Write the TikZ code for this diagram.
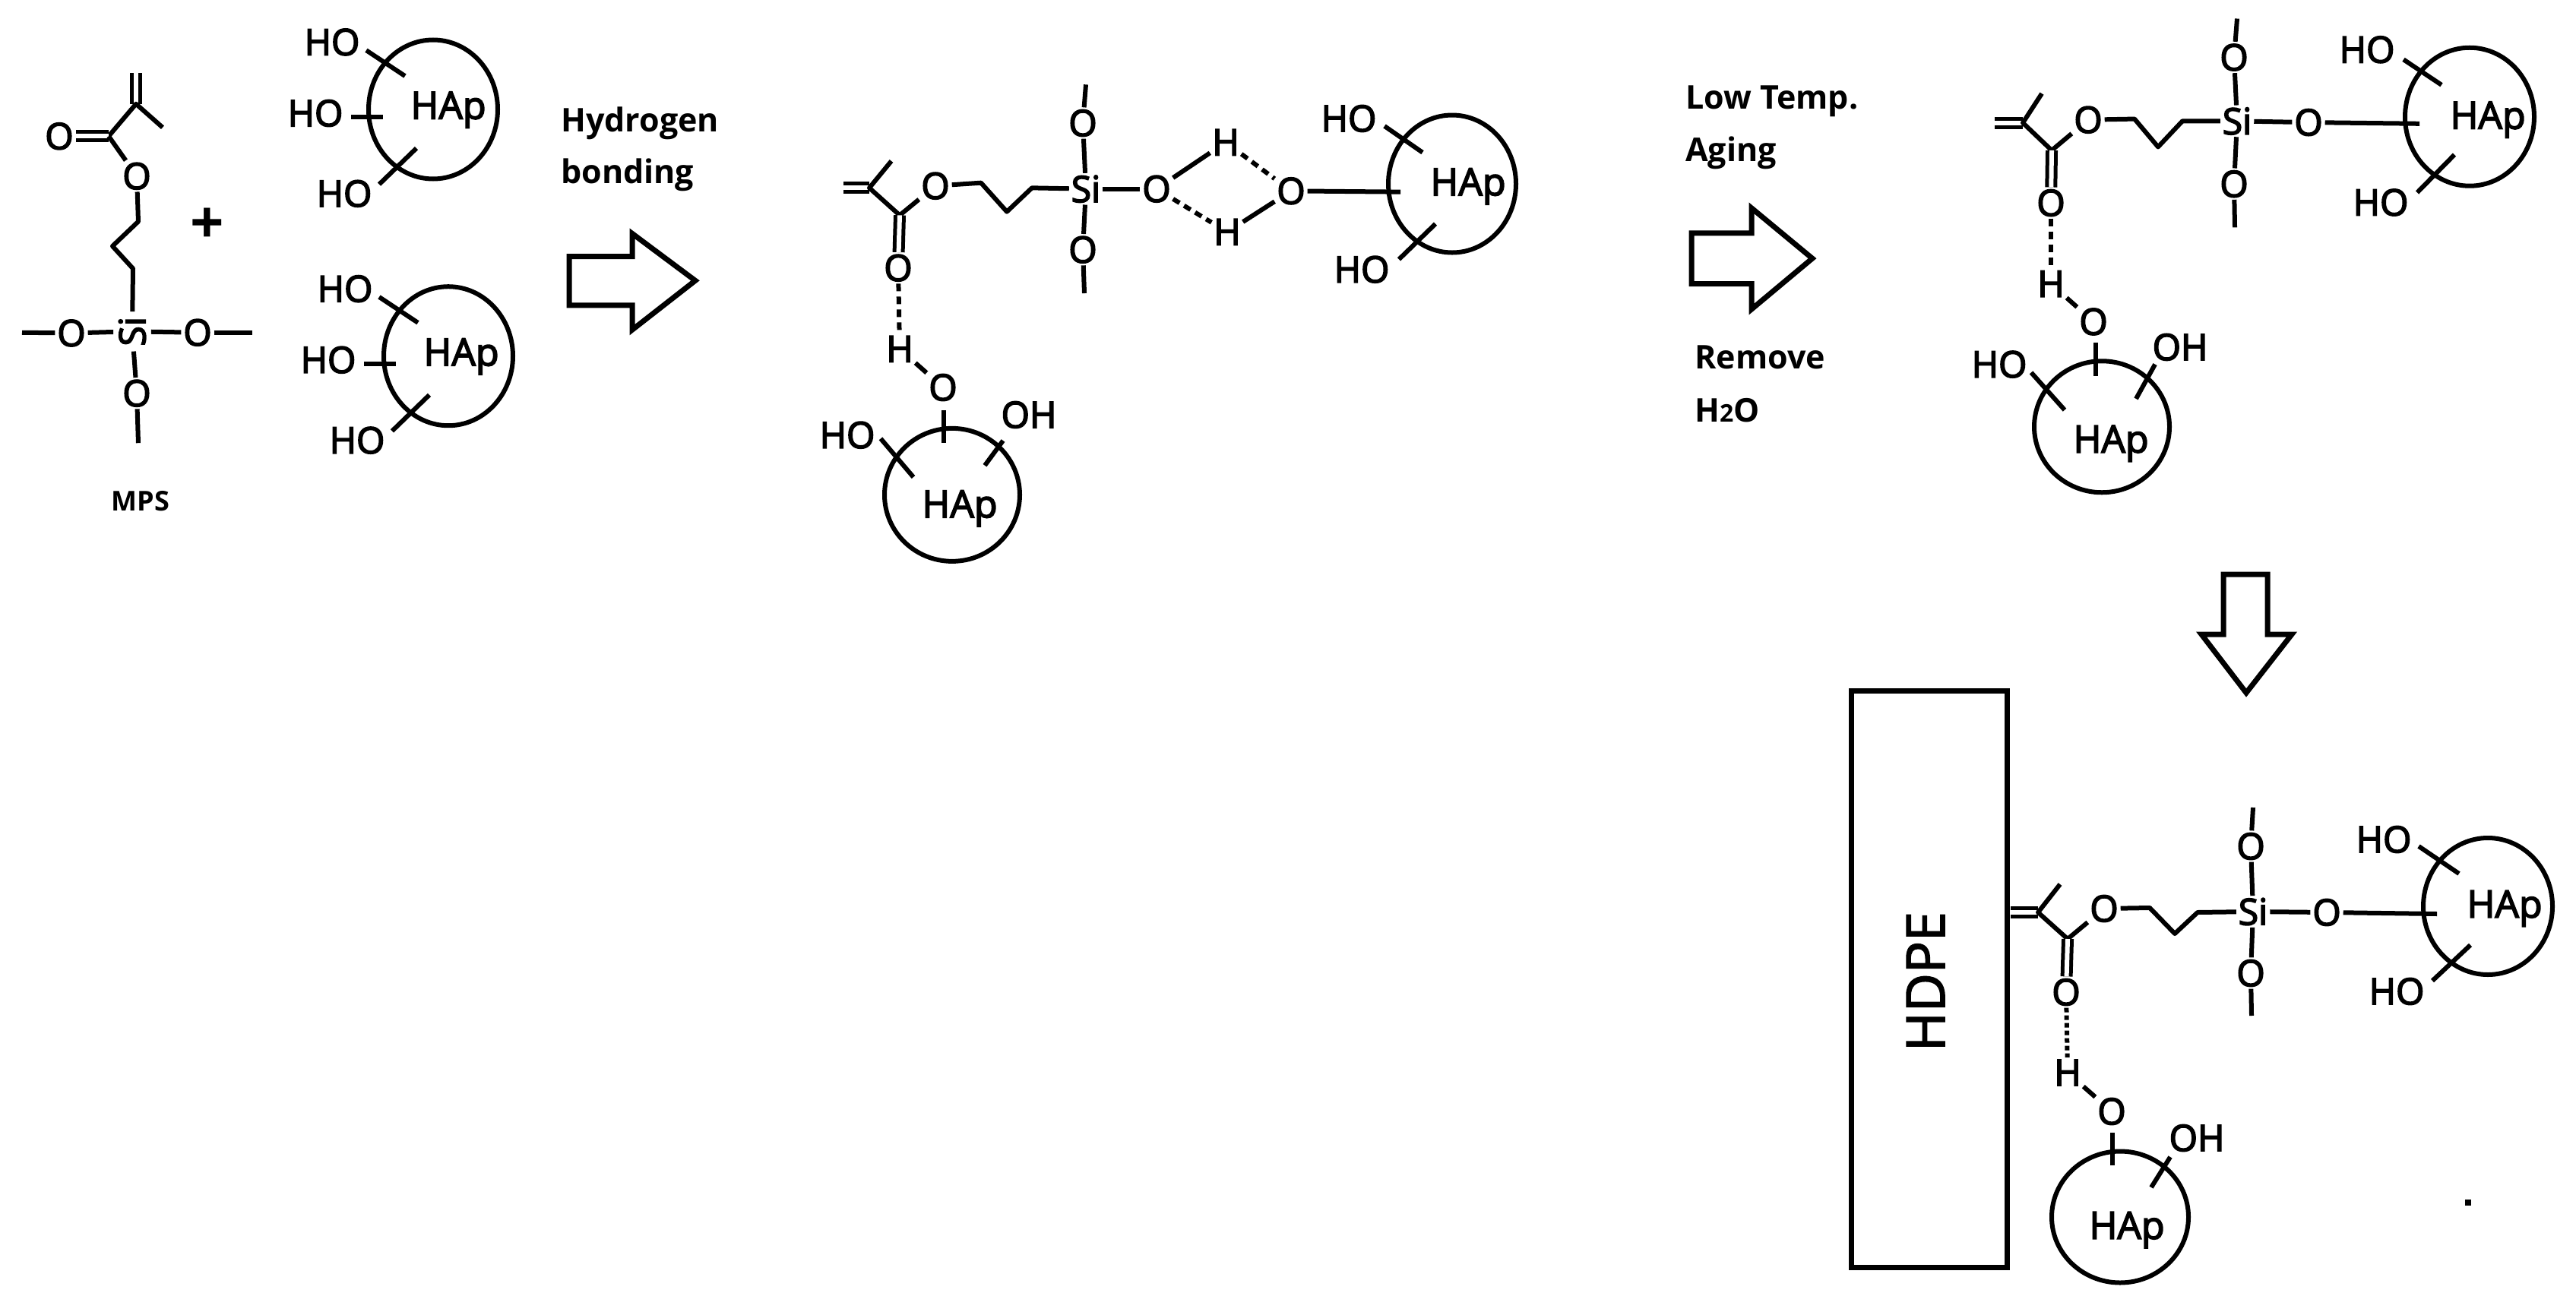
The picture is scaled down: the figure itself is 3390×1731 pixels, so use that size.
\documentclass[tikz,border=0pt]{standalone}
\usepackage{fontspec}
\usetikzlibrary{shapes.geometric}
\setmainfont{Open Sans}
\newfontfamily\fontA{Open Sans}
\newfontfamily\fontL{Open Sans}
\newcommand\chemtick[3]{\coordinate (#1a) at (#2); \coordinate (#1b) at (#3); \draw[bond] (#1a) -- (#1b);}
\tikzset{
  x=1pt,y=-1pt,
  bond/.style={line width=6pt,line cap=butt,line join=round},
  dbl/.style={bond,line width=5pt,double,double distance=6pt},
  hbond/.style={bond,dash pattern=on 10pt off 7pt},
  ring/.style={draw,ellipse,line width=6pt,inner sep=0pt,outer sep=0pt},
  blockarrow/.style={line width=7pt,line join=miter},
  heavy/.style={execute at begin node={\special{pdf:code 2 Tr 1.6 w}},execute at end node={\special{pdf:code 0 Tr}}},
  atom/.style={heavy,inner sep=0pt,outer sep=3pt,font=\fontA\fontsize{48}{48}\selectfont},
  hap/.style={heavy,inner sep=0pt,font=\fontA\fontsize{50}{50}\selectfont},
  lbl/.style={inner sep=0pt,anchor=base west,font=\fontL\bfseries\fontsize{43}{43}\selectfont},
}
\begin{document}
\begin{tikzpicture}
\useasboundingbox[fill=white] (0,0) rectangle (3390,1731);

\begin{scope}[y=-0.72pt]
% ---------- MPS ----------
\node[atom] (aO1) at (78,249) {O};
\node[atom] (aO2) at (180,322) {O};
\node[atom,rotate=90,outer sep=7pt] (aSi) at (174,606) {Si};
\node[atom] (aOl) at (94,609) {O};
\node[atom] (aOr) at (260,608) {O};
\node[atom] (aOb) at (180,719) {O};
\node[lbl,anchor=center,font=\fontL\bfseries\fontsize{36}{36}\selectfont] (mps) at (185,916) {MPS};
\node[inner sep=0pt,font=\fontL\bfseries\fontsize{78}{78}\selectfont] (plus) at (273,413) {+};
\coordinate (aV) at (179,190);
\coordinate (aT) at (179,134);
\coordinate (aM) at (214,233);
\coordinate (aC) at (143,249);
\coordinate (aV1) at (182,405);
\coordinate (aV2) at (148,450);
\coordinate (aV3) at (175,491);
\coordinate (aL) at (29,608);
\coordinate (aR) at (332,608);
\coordinate (aB) at (182,810);
\draw[dbl] (aV) -- (aT);
\draw[bond] (aM) -- (aV) -- (aC);
\draw[dbl] (aC) -- (aO1);
\draw[bond] (aC) -- (aO2);
\draw[bond] (aO2) -- (aV1) -- (aV2) -- (aV3) -- (aSi);
\draw[bond] (aL) -- (aOl);
\draw[bond] (aOl) -- (aSi);
\draw[bond] (aSi) -- (aOr);
\draw[bond] (aOr) -- (aR);
\draw[bond] (aSi) -- (aOb);
\draw[bond] (aOb) -- (aB);

% ---------- HAp 1 and 2 ----------
\node[ring,minimum width=170pt,minimum height=183pt] (r1) at (570,200) {};
\node[hap] (r1t) at (590,201) {HAp};
\node[atom] (r1a) at (437,77) {HO};
\node[atom] (r1b) at (415,207) {HO};
\node[atom] (r1c) at (453,354) {HO};
\chemtick{r1p}{482,92}{533,139}
\chemtick{r1q}{462,214}{504,214}
\chemtick{r1s}{548,271}{499,337}

\node[ring,minimum width=170pt,minimum height=183pt] (r2) at (590,651) {};
\node[hap] (r2t) at (607,652) {HAp};
\node[atom] (r2a) at (454,528) {HO};
\node[atom] (r2b) at (432,658) {HO};
\node[atom] (r2c) at (470,805) {HO};
\chemtick{r2p}{499,543}{550,590}
\chemtick{r2q}{479,665}{521,665}
\chemtick{r2s}{565,722}{516,788}

% ---------- first arrow ----------
\node[lbl] (hyd) at (738,241) {Hydrogen};
\node[lbl] (bon) at (738,335) {bonding};
\draw[blockarrow] (749,469) -- (832,469) -- (832,427) -- (915,513) -- (832,603) -- (832,558) -- (749,558) -- cycle;
\end{scope}

\begin{scope}[y=-0.6667pt,yshift=-20pt]
% ---------- second structure ----------
\node[atom] (bO1) at (1231,337) {O};
\node[atom] (bSi) at (1429,343) {Si};
\node[atom] (bOt) at (1425,213) {O};
\node[atom] (bOb) at (1425,463) {O};
\node[atom] (bO2) at (1522,343) {O};
\node[atom] (bH1) at (1613,251) {H};
\node[atom] (bH2) at (1615,428) {H};
\node[atom] (bO3) at (1699,347) {O};
\node[atom] (bO4) at (1182,499) {O};
\node[atom] (bH3) at (1184,659) {H};
\node[atom] (bO5) at (1241,735) {O};
\coordinate (bE) at (1110,341);
\coordinate (bV) at (1144,341);
\coordinate (bM) at (1173,288);
\coordinate (bC) at (1184,395);
\coordinate (bZ1) at (1291,331);
\coordinate (bZ2) at (1325,388);
\coordinate (bZ3) at (1358,341);
\coordinate (bTT) at (1429,137);
\coordinate (bBB) at (1427,549);
\coordinate (bS) at (1843,349);
\draw[dbl] (bV) -- (bE);
\draw[bond] (bM) -- (bV) -- (bC) -- (bO1);
\draw[dbl] (bC) -- (bO4);
\draw[bond] (bO1) -- (bZ1) -- (bZ2) -- (bZ3) -- (bSi);
\draw[bond] (bTT) -- (bOt);
\draw[bond] (bOt) -- (bSi);
\draw[bond] (bSi) -- (bOb);
\draw[bond] (bOb) -- (bBB);
\draw[bond] (bSi) -- (bO2);
\draw[bond] (bO2) -- (bH1);
\draw[hbond] (bH1) -- (bO3);
\draw[hbond] (bO2) -- (bH2);
\draw[bond] (bH2) -- (bO3);
\draw[bond] (bO3) -- (bS);
\draw[hbond] (bO4) -- (bH3);
\draw[bond] (bH3) -- (bO5);

\node[ring,minimum width=168pt,minimum height=181pt] (r3) at (1911,333) {};
\node[hap] (r3t) at (1932,338) {HAp};
\node[atom] (r3a) at (1775,204) {HO};
\node[atom] (r3c) at (1792,502) {HO};
\chemtick{r3p}{1822,219}{1872,271}
\chemtick{r3s}{1889,412}{1841,482}

\node[ring,minimum width=178pt,minimum height=175pt] (r4) at (1253,947) {};
\node[hap] (r4t) at (1263,974) {HAp};
\node[atom] (r4a) at (1115,829) {HO};
\node[atom] (r4b) at (1354,789) {OH};
\chemtick{r4q}{1242,780}{1242,844}
\chemtick{r4p}{1159,836}{1202,912}
\chemtick{r4s}{1320,840}{1296,889}
\end{scope}

\begin{scope}[y=-0.5667pt,yshift=-8.667pt]
% ---------- second arrow ----------
\node[lbl] (low) at (2218,238) {Low Temp.};
\node[lbl] (agi) at (2218,360) {Aging};
\node[lbl] (rem) at (2230,842) {Remove};
\node[lbl] (wat) at (2230,965) {H{\fontsize{32}{32}\selectfont 2}O};
\draw[blockarrow] (2226,526) -- (2305,526) -- (2305,468) -- (2385,585) -- (2305,703) -- (2305,644) -- (2226,644) -- cycle;

% ---------- third structure ----------
\node[atom] (cO1) at (2748,263) {O};
\node[atom] (cSi) at (2944,266) {Si};
\node[atom] (cOt) at (2940,118) {O};
\node[atom] (cOb) at (2940,412) {O};
\node[atom] (cO2) at (3038,269) {O};
\node[atom] (cO4) at (2699,456) {O};
\node[atom] (cH3) at (2699,644) {H};
\node[atom] (cO5) at (2755,732) {O};
\coordinate (cE) at (2625,270);
\coordinate (cV) at (2662,270);
\coordinate (cM) at (2687,202);
\coordinate (cC) at (2700,334);
\coordinate (cZ1) at (2809,261);
\coordinate (cZ2) at (2840,326);
\coordinate (cZ3) at (2872,266);
\coordinate (cTT) at (2944,28);
\coordinate (cBB) at (2941,513);
\coordinate (cS) at (3184,272);
\draw[dbl] (cV) -- (cE);
\draw[bond] (cM) -- (cV) -- (cC) -- (cO1);
\draw[dbl] (cC) -- (cO4);
\draw[bond] (cO1) -- (cZ1) -- (cZ2) -- (cZ3) -- (cSi);
\draw[bond] (cTT) -- (cOt);
\draw[bond] (cOt) -- (cSi);
\draw[bond] (cSi) -- (cOb);
\draw[bond] (cOb) -- (cBB);
\draw[bond] (cSi) -- (cO2);
\draw[bond] (cO2) -- (cS);
\draw[hbond] (cO4) -- (cH3);
\draw[bond] (cH3) -- (cO5);

\node[ring,minimum width=170pt,minimum height=182pt] (r5) at (3250,256) {};
\node[hap] (r5t) at (3274,263) {HAp};
\node[atom] (r5a) at (3115,100) {HO};
\node[atom] (r5c) at (3133,455) {HO};
\chemtick{r5p}{3163,123}{3213,182}
\chemtick{r5s}{3230,344}{3181,432}

\node[ring,minimum width=178pt,minimum height=173pt] (r6) at (2766,976) {};
\node[hap] (r6t) at (2778,1015) {HAp};
\node[atom] (r6a) at (2631,831) {HO};
\node[atom] (r6b) at (2869,791) {OH};
\chemtick{r6q}{2758,781}{2758,858}
\chemtick{r6p}{2673,850}{2717,937}
\chemtick{r6s}{2836,831}{2811,911}
\end{scope}

% ---------- down arrow ----------
\draw[blockarrow] (2926,756) -- (2984,756) -- (2984,835) -- (3016,835) -- (2956,912) -- (2897,835) -- (2926,835) -- cycle;

% ---------- HDPE structure ----------
\node[draw,line width=7pt,minimum width=205pt,minimum height=759pt,inner sep=0pt] (hdpe) at (2538.5,1288.5) {};
\node[heavy,inner sep=0pt,rotate=90,font=\fontA\fontsize{70}{70}\selectfont] (hdpet) at (2534,1292) {HDPE};

\node[atom] (dO1) at (2769,1196) {O};
\node[atom] (dSi) at (2965,1200) {Si};
\node[atom] (dOt) at (2962,1114) {O};
\node[atom] (dOb) at (2962,1281) {O};
\node[atom] (dO2) at (3062,1201) {O};
\node[atom] (dO4) at (2719,1306) {O};
\node[atom] (dH3) at (2721,1412) {H};
\node[atom] (dO5) at (2779,1463) {O};
\coordinate (dE) at (2646,1201);
\coordinate (dV) at (2682,1201);
\coordinate (dM) at (2711,1164);
\coordinate (dC) at (2721,1236);
\coordinate (dZ1) at (2829,1195);
\coordinate (dZ2) at (2862,1229);
\coordinate (dZ3) at (2892,1201);
\coordinate (dTT) at (2965,1063);
\coordinate (dBB) at (2963,1337);
\coordinate (dS) at (3207,1203);
\coordinate (dDot) at (3248,1583);
\draw[dbl] (dV) -- (dE);
\draw[bond] (dM) -- (dV) -- (dC) -- (dO1);
\draw[dbl] (dC) -- (dO4);
\draw[bond] (dO1) -- (dZ1) -- (dZ2) -- (dZ3) -- (dSi);
\draw[bond] (dTT) -- (dOt);
\draw[bond] (dOt) -- (dSi);
\draw[bond] (dSi) -- (dOb);
\draw[bond] (dOb) -- (dBB);
\draw[bond] (dSi) -- (dO2);
\draw[bond] (dO2) -- (dS);
\draw[hbond,dash pattern=on 6pt off 4pt] (dO4) -- (dH3);
\draw[bond] (dH3) -- (dO5);

\node[ring,minimum width=170pt,minimum height=180pt] (r7) at (3274,1193) {};
\node[hap] (r7t) at (3296,1196) {HAp};
\node[atom] (r7a) at (3137,1105) {HO};
\node[atom] (r7c) at (3154,1305) {HO};
\chemtick{r7p}{3183,1114}{3236,1150}
\chemtick{r7s}{3251,1244}{3201,1291}

\node[ring,minimum width=180pt,minimum height=173pt] (r8) at (2790,1602) {};
\node[hap] (r8t) at (2799,1619) {HAp};
\node[atom] (r8b) at (2891,1498) {OH};
\chemtick{r8q}{2780,1491}{2780,1534}
\chemtick{r8s}{2856,1523}{2831,1563}

\fill (dDot) +(-4,-4) rectangle +(4,4);
\end{tikzpicture}
\end{document}
